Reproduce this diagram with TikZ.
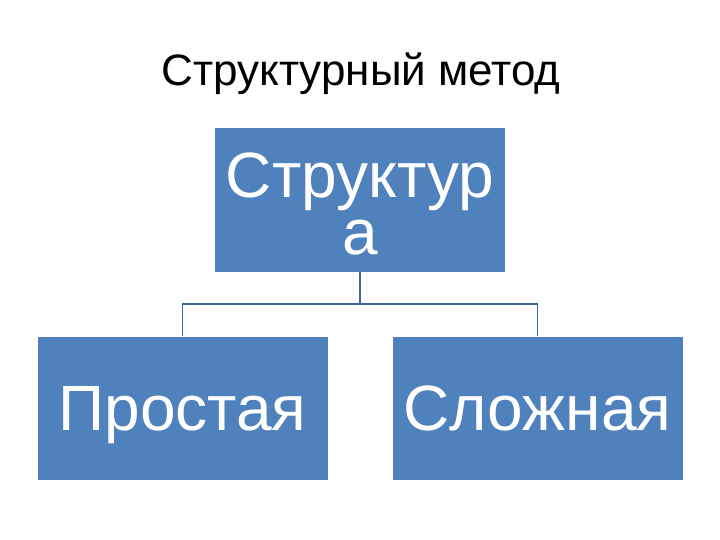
\documentclass[tikz,border=0pt]{standalone}
\usepackage{fontspec}
\setmainfont{Liberation Sans}
\definecolor{boxblue}{HTML}{4F81BD}
\definecolor{connblue}{HTML}{3F6797}
\begin{document}
\begin{tikzpicture}[x=1pt,y=-1pt,
  box/.style={fill=boxblue, draw=white, line width=0.8pt, inner sep=0pt, text=white, align=center},
  conn/.style={draw=connblue, line width=1.8pt},
  titletext/.style={font=\fontsize{44}{50}\selectfont, anchor=base}]
\useasboundingbox (0,0) rectangle (720,540);
\node[titletext] (title) at (361,86) {Структурный метод};
\node[box, minimum width=291pt, minimum height=145pt] (top) at (360,199.5) {};
\node[text=white, inner sep=0pt, align=center, font=\fontsize{64}{57}\selectfont] (toptext) at (360,203.5) {Структур\\а};
\node[box, minimum width=291pt, minimum height=144pt, text height=45pt, text depth=0pt, font=\fontsize{64}{70}\selectfont] (left) at (182.5,408) {Простая};
\node[box, minimum width=291pt, minimum height=144pt, text height=45pt, text depth=0pt, font=\fontsize{64}{70}\selectfont] (right) at (537.5,408) {Сложная};
\coordinate (j) at (360,304);
\draw[conn] (top.south) -- (j);
\draw[conn] (left.north) |- (j) -| (right.north);
\end{tikzpicture}
\end{document}
